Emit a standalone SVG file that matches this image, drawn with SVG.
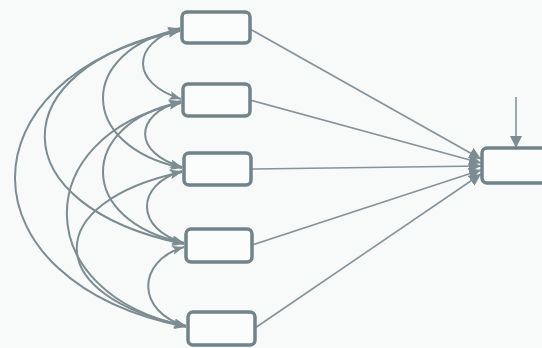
<svg xmlns="http://www.w3.org/2000/svg" width="542" height="348" viewBox="0 0 542 348">
<style>
.box{fill:#fbfcfc;stroke:#71838a;stroke-width:3.5}
.cov{fill:none;stroke:#7b8c92;stroke-width:2}
.path{fill:none;stroke:#85939a;stroke-width:1.6}
</style>
<defs>
<marker id="ah" viewBox="0 0 12 9" refX="12" refY="4.5" markerWidth="12" markerHeight="9" markerUnits="userSpaceOnUse" orient="auto-start-reverse">
<path d="M0,0 L12,4.5 L0,9 L3,4.5 Z" fill="#7b8c92"/>
</marker>
<marker id="ah2" viewBox="0 0 12 12" refX="12" refY="6" markerWidth="12" markerHeight="12" markerUnits="userSpaceOnUse" orient="auto">
<path d="M0,0 L12,6 L0,12 Z" fill="#7b8c92"/>
</marker>
</defs>
<rect width="542" height="348" fill="#f8f9f9"/>
<g id="connectors">
<g marker-start="url(#ah)" marker-end="url(#ah)">
<path class="cov" d="M180,28 C130.5,44 130.5,83 181,99"/>
<path class="cov" d="M181,101 C133,115 133,153 182,167"/>
<path class="cov" d="M182,171 C135,185 135,229 184,243"/>
<path class="cov" d="M184,247 C136,261 136,312 186,326"/>
<path class="cov" d="M180,29 C77,51 77,146 182,168"/>
<path class="cov" d="M181,102 C76.5,124 76.5,221 184,243"/>
<path class="cov" d="M182,172 C41,202 41,296 186,326"/>
<path class="cov" d="M181,103 C28,135 28,294 186,326"/>
<path class="cov" d="M180,30 C-1,68 -1,206 184,244"/>
<path class="cov" d="M180,31 C-41,76 -41,282 186,327"/>
</g>
<g marker-end="url(#ah2)">
<path class="path" d="M250,29 L481,159"/>
<path class="path" d="M250,100 L481,163"/>
<path class="path" d="M251,169 L481,166"/>
<path class="path" d="M252,245 L481,170"/>
<path class="path" d="M255,328 L481,174"/>
<path class="path" d="M516,97 L516,148"/>
</g>
</g>
<g id="x1"><rect class="box" x="182" y="12" width="68" height="31" rx="5"/></g>
<g id="x2"><rect class="box" x="183" y="84" width="67" height="32" rx="5"/></g>
<g id="x3"><rect class="box" x="184" y="153" width="67" height="32" rx="5"/></g>
<g id="x4"><rect class="box" x="186" y="229" width="66" height="33" rx="5"/></g>
<g id="x5"><rect class="box" x="188" y="312" width="67" height="33" rx="5"/></g>
<g id="y"><rect class="box" x="482" y="148" width="64" height="35" rx="5"/></g>
</svg>
